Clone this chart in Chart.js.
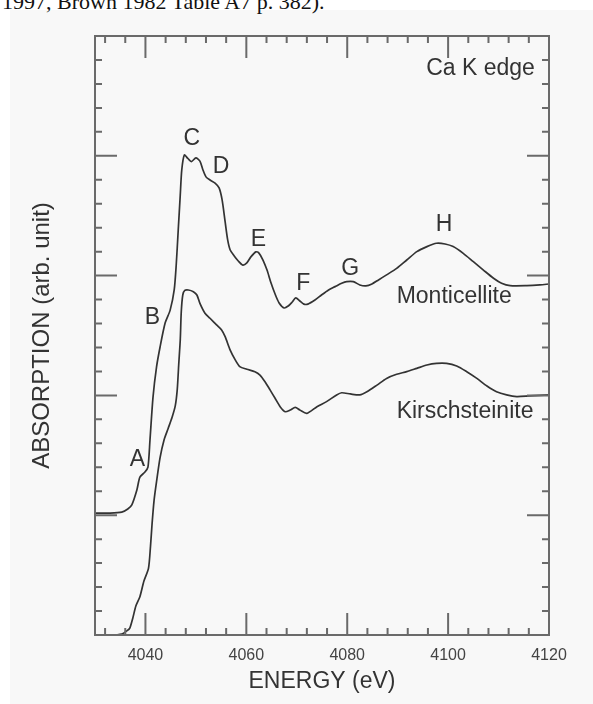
<!DOCTYPE html>
<html>
<head>
<meta charset="utf-8">
<script src="https://cdn.jsdelivr.net/npm/chart.js@4.4.0/dist/chart.umd.min.js"></script>
<style>
  html, body { margin: 0; padding: 0; background: #fff; }
  body { width: 593px; height: 704px; position: relative; overflow: hidden; }
  #panel { position: absolute; left: 10px; top: 10px; width: 583px; height: 694px; background: #f8f8f8; }
  #caption { position: absolute; left: 2px; top: -9px; font: 22px 'Liberation Serif', 'Times New Roman', serif; line-height: 22px; color: #111; white-space: nowrap; }
  #chart { position: absolute; left: 0; top: 0; }
</style>
</head>
<body>
<div id="panel"></div>
<div id="caption">1997, Brown 1982 Table A7 p. 382).</div>
<canvas id="chart" width="593" height="704"></canvas>
<script>
// Ca K-edge XANES spectra
const monticelliteEnergy = [4030, 4033, 4035.3, 4036.5, 4037.3, 4038.3, 4038.9, 4039.9, 4040.5, 4040.9,
  4041.5, 4042.2, 4042.9, 4043.9, 4044.9, 4045.7, 4046.1, 4046.5, 4046.9, 4047.2,
  4047.7, 4048.4, 4049.1, 4050.0, 4050.8, 4051.4, 4052.0, 4052.8, 4053.8, 4054.6,
  4055.2, 4055.8, 4056.3, 4056.8, 4057.6, 4058.4, 4059.3, 4060.1, 4060.9, 4061.9,
  4062.5, 4063.3, 4064.1, 4064.9, 4065.7, 4066.5, 4067.5, 4068.3, 4069.1, 4069.8,
  4070.6, 4071.4, 4072.2, 4073.6, 4074.9, 4076.3, 4077.6, 4078.9, 4079.9, 4081.2,
  4082.5, 4083.7, 4084.9, 4086.2, 4087.8, 4089.8, 4091.8, 4093.8, 4095.8, 4097.7,
  4099.4, 4101.0, 4103.0, 4105.0, 4107.0, 4109.0, 4110.6, 4112.3, 4115.6, 4118.2, 4120];
const monticelliteAbs = [5.09, 5.09, 5.13, 5.26, 5.43, 6.05, 6.59, 6.80, 7.01, 8.14,
  9.93, 11.19, 12.02, 13.02, 13.56, 14.40, 15.44, 16.90, 18.36, 19.41,
  20.03, 19.89, 19.76, 19.91, 19.78, 19.41, 19.12, 18.99, 18.86, 18.66,
  18.16, 17.24, 16.49, 16.07, 15.82, 15.61, 15.44, 15.53, 15.78, 15.99,
  15.94, 15.65, 15.23, 14.69, 14.23, 13.86, 13.65, 13.73, 13.90, 14.07,
  13.94, 13.81, 13.81, 13.98, 14.19, 14.40, 14.54, 14.68, 14.75, 14.75,
  14.61, 14.57, 14.65, 14.82, 15.03, 15.30, 15.65, 16.00, 16.21, 16.35,
  16.32, 16.21, 15.93, 15.58, 15.23, 14.89, 14.68, 14.58, 14.58, 14.61, 14.65];

const kirschsteiniteEnergy = [4032, 4035.3, 4036.3, 4036.9, 4037.5, 4038.1, 4038.9, 4039.7, 4040.6, 4041.0,
  4041.3, 4041.7, 4042.2, 4042.9, 4043.7, 4044.5, 4045.3, 4045.9, 4046.3, 4046.6,
  4046.9, 4047.1, 4047.4, 4047.8, 4048.5, 4049.5, 4050.2, 4050.8, 4051.8, 4052.8,
  4054.1, 4055.1, 4055.8, 4056.8, 4057.8, 4058.7, 4060.1, 4061.7, 4062.7, 4063.7,
  4064.7, 4065.7, 4066.7, 4067.7, 4068.7, 4069.7, 4070.6, 4072.0, 4074.0, 4075.9,
  4077.9, 4078.9, 4080.6, 4082.5, 4083.9, 4085.9, 4087.8, 4089.8, 4091.8, 4093.8,
  4095.8, 4097.7, 4099.7, 4101.7, 4103.7, 4105.7, 4107.7, 4109.6, 4111.6, 4113.6, 4116.2, 4120];
const kirschsteiniteAbs = [-0.05, 0.04, 0.17, 0.29, 0.71, 1.21, 1.60, 2.25, 2.78, 3.70,
  4.60, 5.60, 6.40, 7.40, 8.15, 8.62, 9.10, 9.55, 10.23, 11.30,
  12.31, 13.48, 14.19, 14.38, 14.40, 14.33, 14.19, 13.84, 13.43, 13.22,
  12.94, 12.73, 12.45, 11.89, 11.48, 11.20, 11.09, 10.99, 10.85, 10.57,
  10.23, 9.88, 9.53, 9.32, 9.39, 9.50, 9.39, 9.25, 9.53, 9.74,
  10.02, 10.11, 10.06, 10.02, 10.15, 10.43, 10.71, 10.88, 10.99, 11.13,
  11.27, 11.34, 11.34, 11.23, 10.99, 10.71, 10.39, 10.15, 10.02, 9.95, 9.98, 10.02];

const energyTicks = [4040, 4060, 4080, 4100, 4120];
const peakNames = ['A', 'B', 'C', 'D', 'E', 'F', 'G', 'H'];

const toPoints = (xs, ys) => xs.map((x, i) => ({ x: x, y: ys[i] }));

const sans = "'Liberation Sans', Arial, Helvetica, sans-serif";
const ink = '#333';
const axisInk = '#6a6a6a';

// where each feature letter sits, in energy / absorption units
const peakSpots = [[4038.4, 7.3], [4041.4, 13.23], [4049.2, 20.73], [4055.0, 19.55],
  [4062.4, 16.49], [4071.3, 14.68], [4080.6, 15.28], [4099.2, 17.11]];

// box, inward ticks on all four sides
const frameTicks = {
  id: 'frameTicks',
  afterDraw(chart) {
    const { ctx, chartArea: a, scales: { x, y } } = chart;
    ctx.save();
    ctx.strokeStyle = axisInk;
    ctx.lineWidth = 2;
    ctx.beginPath();
    for (let v = 4032; v < 4120; v += 4) {
      const px = x.getPixelForValue(v);
      const len = (v % 20 === 0) ? 22 : 7;
      ctx.moveTo(px, a.bottom); ctx.lineTo(px, a.bottom - len);
      ctx.moveTo(px, a.top); ctx.lineTo(px, a.top + len);
    }
    for (let v = 1; v < 25; v++) {
      const py = y.getPixelForValue(v);
      const len = (v % 5 === 0) ? 22 : 7;
      ctx.moveTo(a.left, py); ctx.lineTo(a.left + len, py);
      ctx.moveTo(a.right, py); ctx.lineTo(a.right - len, py);
    }
    ctx.stroke();
    ctx.strokeRect(a.left, a.top, a.right - a.left, a.bottom - a.top);
    ctx.restore();
  }
};

// feature letters and sample names
const spectrumLabels = {
  id: 'spectrumLabels',
  afterDatasetsDraw(chart) {
    const { ctx, scales: { x, y } } = chart;
    ctx.save();
    ctx.fillStyle = ink;
    ctx.font = '23px ' + sans;
    ctx.textBaseline = 'middle';
    ctx.textAlign = 'center';
    peakNames.forEach((name, i) => {
      ctx.fillText(name, x.getPixelForValue(peakSpots[i][0]), y.getPixelForValue(peakSpots[i][1]));
    });
    ctx.textAlign = 'right';
    ctx.fillText('Ca K edge', x.getPixelForValue(4117.2), y.getPixelForValue(23.65));
    ctx.textAlign = 'left';
    ctx.fillText('Monticellite', x.getPixelForValue(4089.8), y.getPixelForValue(14.12));
    ctx.fillText('Kirschsteinite', x.getPixelForValue(4089.8), y.getPixelForValue(9.32));
    ctx.restore();
  }
};

new Chart(document.getElementById('chart'), {
  type: 'line',
  data: {
    datasets: [{
      label: 'Monticellite',
      data: toPoints(monticelliteEnergy, monticelliteAbs),
      borderColor: ink,
      borderWidth: 1.7,
      tension: 0.25,
      pointRadius: 0,
      fill: false
    }, {
      label: 'Kirschsteinite',
      data: toPoints(kirschsteiniteEnergy, kirschsteiniteAbs),
      borderColor: ink,
      borderWidth: 1.7,
      tension: 0.25,
      pointRadius: 0,
      fill: false
    }]
  },
  options: {
    responsive: false,
    animation: false,
    devicePixelRatio: 1,
    layout: { padding: { left: 0, right: 44, top: 36, bottom: 0 } },
    plugins: { legend: { display: false }, tooltip: { enabled: false } },
    scales: {
      x: {
        type: 'linear',
        min: 4030,
        max: 4120,
        afterBuildTicks: s => { s.ticks = energyTicks.map(v => ({ value: v })); },
        afterFit: s => { s.height = 69; },
        grid: { display: false },
        border: { display: false },
        ticks: {
          autoSkip: false,
          maxRotation: 0,
          padding: 3,
          color: '#444',
          font: { family: sans, size: 16 },
          callback: v => String(v)
        },
        title: {
          display: true,
          text: 'ENERGY (eV)',
          color: ink,
          font: { family: sans, size: 23 },
          padding: { top: 0, bottom: 9 }
        }
      },
      y: {
        min: 0,
        max: 25,
        afterFit: s => { s.width = 95; },
        grid: { display: false },
        border: { display: false },
        ticks: { display: false },
        title: {
          display: true,
          text: 'ABSORPTION (arb. unit)',
          color: ink,
          font: { family: sans, size: 24 },
          padding: { top: 28, bottom: 0 }
        }
      }
    }
  },
  plugins: [frameTicks, spectrumLabels]
});
</script>
</body>
</html>
